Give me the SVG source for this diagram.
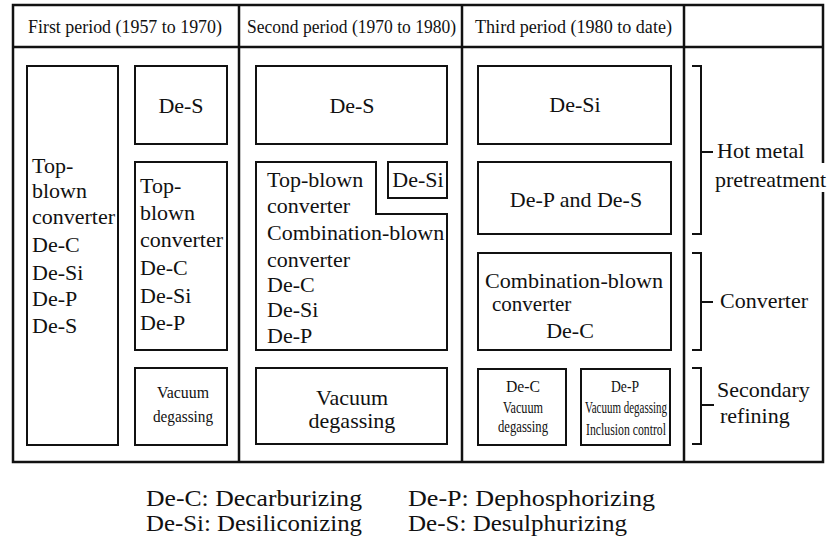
<svg xmlns="http://www.w3.org/2000/svg" width="831" height="547" viewBox="0 0 831 547">
<style>
.frame{fill:none;stroke:#111;stroke-width:2.5}
.box{fill:none;stroke:#111;stroke-width:2}
.br{fill:none;stroke:#111;stroke-width:2}
text{font-family:"Liberation Serif","Times New Roman",serif;fill:#111}
.t{font-size:22px}
.t21{font-size:21px}
.h{font-size:19px}
.s{font-size:16px}
.m{text-anchor:middle}
.lg{font-size:23px}
</style>
<rect width="831" height="547" fill="#fff"/>
<g id="table">
<path class="frame" d="M823,163 V5 H13 V462 H823 V192"/>
<path class="frame" d="M13,47 H823 M239,5 V462 M462,5 V462 M684,5 V462"/>
<text class="h" x="28" y="33" textLength="194" lengthAdjust="spacingAndGlyphs">First period (1957 to 1970)</text>
<text class="h" x="247" y="33" textLength="209" lengthAdjust="spacingAndGlyphs">Second period (1970 to 1980)</text>
<text class="h" x="475" y="33" textLength="197" lengthAdjust="spacingAndGlyphs">Third period (1980 to date)</text>
</g>
<g id="p1-topblown">
<rect class="box" x="27" y="66" width="91" height="379"/>
<text class="t" x="32" y="173">Top-</text>
<text class="t" x="32" y="198">blown</text>
<text class="t" x="32" y="224">converter</text>
<text class="t" x="32" y="252">De-C</text>
<text class="t" x="32" y="280">De-Si</text>
<text class="t" x="32" y="306">De-P</text>
<text class="t" x="32" y="333">De-S</text>
</g>
<g id="p1-des">
<rect class="box" x="135" y="66" width="92" height="78"/>
<text class="t m" x="181" y="113">De-S</text>
</g>
<g id="p1-converter">
<rect class="box" x="135" y="162" width="92" height="188"/>
<text class="t" x="140" y="193">Top-</text>
<text class="t" x="140" y="220">blown</text>
<text class="t" x="140" y="247">converter</text>
<text class="t" x="140" y="275">De-C</text>
<text class="t" x="140" y="303">De-Si</text>
<text class="t" x="140" y="330">De-P</text>
</g>
<g id="p1-vacuum">
<rect class="box" x="135" y="368" width="92" height="77"/>
<text class="s m" x="183" y="398" textLength="52" lengthAdjust="spacingAndGlyphs">Vacuum</text>
<text class="s m" x="183" y="422" textLength="60" lengthAdjust="spacingAndGlyphs">degassing</text>
</g>
<g id="p2-des">
<rect class="box" x="256" y="66" width="191" height="78"/>
<text class="t m" x="352" y="113">De-S</text>
</g>
<g id="p2-converter">
<path class="box" d="M256,162 H376 V214 H447 V350 H256 Z"/>
<text class="t" x="267" y="187">Top-blown</text>
<text class="t" x="267" y="213">converter</text>
<text class="t" x="267" y="240">Combination-blown</text>
<text class="t" x="267" y="267">converter</text>
<text class="t" x="267" y="292">De-C</text>
<text class="t" x="267" y="317">De-Si</text>
<text class="t" x="267" y="343">De-P</text>
</g>
<g id="p2-desi">
<rect class="box" x="388" y="162" width="59" height="36"/>
<text class="t m" x="418" y="187">De-Si</text>
</g>
<g id="p2-vacuum">
<rect class="box" x="256" y="368" width="191" height="76"/>
<text class="t m" x="352" y="405">Vacuum</text>
<text class="t m" x="352" y="428">degassing</text>
</g>
<g id="p3-desi">
<rect class="box" x="478" y="66" width="193" height="78"/>
<text class="t m" x="575" y="112">De-Si</text>
</g>
<g id="p3-dep-des">
<rect class="box" x="478" y="162" width="193" height="72"/>
<text class="t m" x="576" y="207">De-P and De-S</text>
</g>
<g id="p3-converter">
<rect class="box" x="478" y="253" width="193" height="97"/>
<text class="t21" x="485" y="288" textLength="178" lengthAdjust="spacingAndGlyphs">Combination-blown</text>
<text class="t21" x="492" y="311">converter</text>
<text class="t m" x="570" y="338">De-C</text>
</g>
<g id="p3-vacuum">
<rect class="box" x="478" y="369" width="88" height="76"/>
<text class="s m" x="523" y="392" textLength="34" lengthAdjust="spacingAndGlyphs">De-C</text>
<text class="s m" x="523" y="413" textLength="40" lengthAdjust="spacingAndGlyphs">Vacuum</text>
<text class="s m" x="523" y="432" textLength="50" lengthAdjust="spacingAndGlyphs">degassing</text>
</g>
<g id="p3-inclusion">
<rect class="box" x="581" y="369" width="89" height="76"/>
<text class="s m" x="625" y="392" textLength="28" lengthAdjust="spacingAndGlyphs">De-P</text>
<text class="s m" x="626" y="413" textLength="82" lengthAdjust="spacingAndGlyphs">Vacuum degassing</text>
<text class="s m" x="626" y="435" textLength="80" lengthAdjust="spacingAndGlyphs">Inclusion control</text>
</g>
<g id="connectors">
<path class="br" d="M692,66 H701 V234 H692 M701,152 H713"/>
<path class="br" d="M692,253 H701 V350 H692 M701,302 H713"/>
<path class="br" d="M692,368 H701 V444 H692 M701,405 H714"/>
</g>
<g id="stage-hot-metal">
<text class="t" x="717" y="158">Hot metal</text>
<text class="t" x="715" y="187">pretreatment</text>
</g>
<g id="stage-converter">
<text class="t" x="720" y="308">Converter</text>
</g>
<g id="stage-secondary">
<text class="t" x="717" y="397">Secondary</text>
<text class="t" x="720" y="423">refining</text>
</g>
<g id="legend">
<text class="lg" x="146" y="506" textLength="216" lengthAdjust="spacingAndGlyphs">De-C: Decarburizing</text>
<text class="lg" x="146" y="531" textLength="216" lengthAdjust="spacingAndGlyphs">De-Si: Desiliconizing</text>
<text class="lg" x="408" y="506" textLength="247" lengthAdjust="spacingAndGlyphs">De-P: Dephosphorizing</text>
<text class="lg" x="408" y="531" textLength="219" lengthAdjust="spacingAndGlyphs">De-S:  Desulphurizing</text>
</g>
</svg>
